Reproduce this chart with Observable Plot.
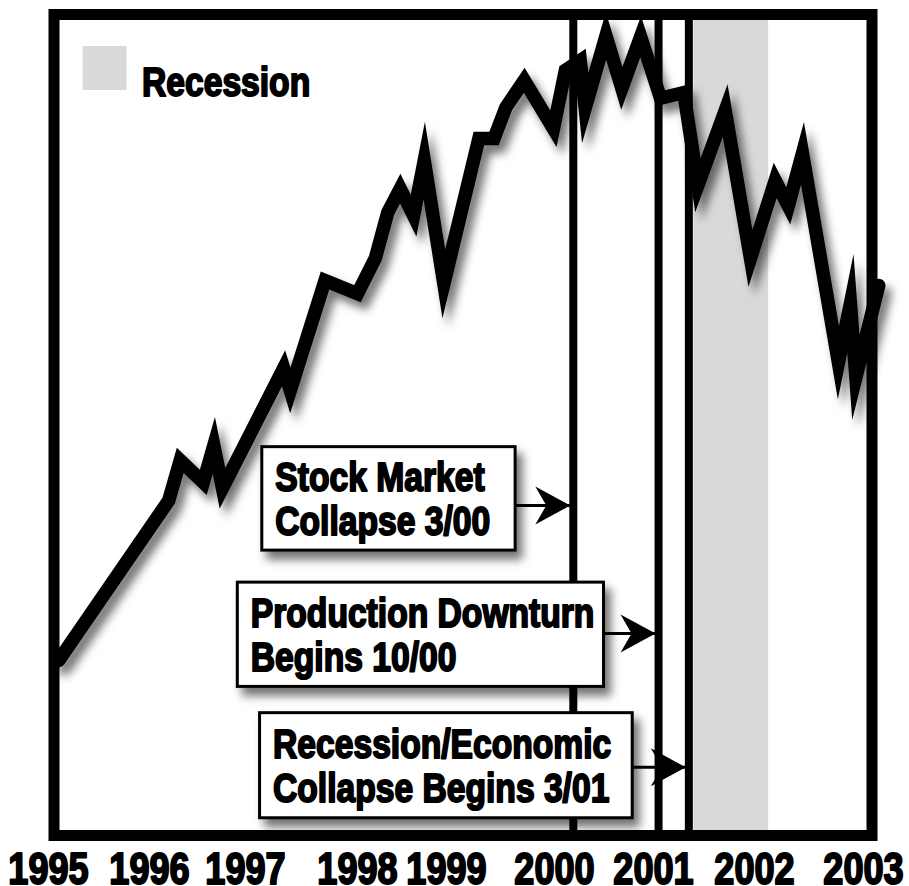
<!DOCTYPE html>
<html><head><meta charset="utf-8">
<script src="https://cdn.jsdelivr.net/npm/d3@7"></script>
<script src="https://cdn.jsdelivr.net/npm/@observablehq/plot@0.6"></script>
<style>
html,body{margin:0;padding:0;background:#fff;}
</style>
</head><body><div id="chart"></div>
<script>
// ---- data ----
const years = [1995, 1996, 1997, 1998, 1999, 2000, 2001, 2002, 2003];
const seriesDate = [1995.10, 1996.20, 1996.32, 1996.56, 1996.67, 1996.76, 1997.34, 1997.40, 1997.71, 1998.00,
  1998.20, 1998.34, 1998.48, 1998.63, 1998.75, 1998.97, 1999.30, 1999.44, 1999.55, 1999.72,
  1999.99, 2000.11, 2000.26, 2000.31, 2000.52, 2000.68, 2000.87, 2001.07, 2001.30, 2001.44,
  2001.71, 2001.96, 2002.19, 2002.31, 2002.44, 2002.77, 2002.88, 2002.93, 2003.14];
const seriesValue = [21.3, 40.8, 45.7, 43.0, 47.5, 42.3, 56.9, 54.2, 67.6, 66.0,
  70.3, 75.9, 78.8, 75.5, 82.2, 67.2, 84.9, 84.9, 88.7, 92.0,
  86.1, 93.2, 94.4, 88.6, 97.4, 91.0, 97.3, 89.8, 90.5, 79.2,
  88.3, 70.3, 79.8, 76.7, 83.1, 57.6, 64.8, 55.8, 67.0];
const eventDates = [2000.19, 2001.05, 2001.35];
const recessionStart = [2001.40];
const recessionEnd = [2002.13];
const noteLabels = ["Stock Market\nCollapse 3/00", "Production Downturn\nBegins 10/00", "Recession/Economic\nCollapse Begins 3/01"];
const noteLeft = [1997.15, 1996.92, 1997.13];
const noteRight = [1999.64, 2000.50, 2000.79];
const noteTop = [47.3, 30.8, 14.9];
const noteBottom = [34.7, 18.1, 2.1];
const noteArrowLevel = [40.2, 24.6, 8.3];
const legendLabel = ["Recession"];

// ---- tables built from the arrays ----
const series = seriesDate.map((date, i) => ({date, value: seriesValue[i]}));
const notes = noteLabels.map((label, i) => ({
  label, left: noteLeft[i], right: noteRight[i], top: noteTop[i], bottom: noteBottom[i],
  level: noteArrowLevel[i], event: eventDates[i]
}));
const recession = recessionStart.map((s, i) => ({start: s, end: recessionEnd[i]}));

const FONT = "'Liberation Sans', Arial, sans-serif";
const HEAVY = {fontWeight: "bold", fontFamily: FONT, fill: "black", stroke: "black", strokeWidth: 2};

// barbed arrow head pointing right, tip just left of the origin
const arrowHead = {
  draw(ctx) {
    ctx.moveTo(-3, 0);
    ctx.lineTo(-38, -19);
    ctx.lineTo(-27, 0);
    ctx.lineTo(-38, 19);
    ctx.closePath();
  }
};

const chart = Plot.plot({
  width: 909,
  height: 886,
  marginLeft: 53.5,
  marginRight: 37.5,
  marginTop: 14,
  marginBottom: 51,
  style: {background: "#fff", fontFamily: FONT},
  x: {type: "linear", domain: years, range: [48, 149, 245, 357, 446, 554, 653, 754, 863], axis: null},
  y: {domain: [0, 100], axis: null},
  marks: [
    Plot.rect(recession, {x1: "start", x2: "end", fill: "#d9d9d9"}),
    Plot.line(series, {x: "date", y: "value", stroke: "black", strokeWidth: 13.5,
      strokeLinejoin: "miter", strokeMiterlimit: 20}),
    Plot.ruleX(eventDates, {stroke: "black", strokeWidth: 8}),
    Plot.rect(notes, {x1: "left", x2: "right", y1: "bottom", y2: "top", fill: "white", stroke: "black", strokeWidth: 3}),
    Plot.text(notes, {x: "left", y: d => (d.top + d.bottom) / 2, text: "label", dx: 13, textAnchor: "start",
      lineHeight: 1.08, fontSize: 41, ...HEAVY}),
    Plot.link(notes, {x1: "right", x2: "event", y1: "level", y2: "level", stroke: "black", strokeWidth: 3}),
    Plot.dot(notes, {x: "event", y: "level", symbol: arrowHead, fill: "black", stroke: null}),
    Plot.dot(legendLabel, {frameAnchor: "top-left", dx: 50.5, dy: 53.5, symbol: "square", r: 24.8, fill: "#d9d9d9"}),
    Plot.text(legendLabel, {frameAnchor: "top-left", dx: 88, dy: 52, text: d => d, textAnchor: "start",
      fontSize: 41, ...HEAVY}),
    Plot.frame({stroke: "black", strokeWidth: 11}),
    Plot.text(years, {x: d => d, frameAnchor: "bottom", lineAnchor: "middle", dy: 34, text: d => String(d),
      fontSize: 44, ...HEAVY})
  ]
});

document.getElementById("chart").appendChild(chart);

// condense the heavy lettering like the original's condensed typeface
chart.querySelectorAll('g[aria-label="text"] text').forEach(t => {
  const spans = t.querySelectorAll("tspan");
  const targets = spans.length ? Array.from(spans) : [t];
  targets.forEach(el => {
    const L = el.getComputedTextLength();
    if (L > 0) {
      el.setAttribute("textLength", (L * 0.82).toFixed(1));
      el.setAttribute("lengthAdjust", "spacingAndGlyphs");
    }
  });
});

// drop shadows like the original artwork
const svg = d3.select(chart);
const defs = svg.insert("defs", ":first-child");
defs.append("filter").attr("id", "shadow")
  .attr("x", "-20%").attr("y", "-20%").attr("width", "140%").attr("height", "140%")
  .append("feDropShadow").attr("dx", 6).attr("dy", 8).attr("stdDeviation", 5)
  .attr("flood-color", "#000").attr("flood-opacity", 0.55);
svg.selectAll('g[aria-label="line"]').attr("filter", "url(#shadow)");
const rects = chart.querySelectorAll('g[aria-label="rect"]');
if (rects.length > 1) d3.select(rects[1]).attr("filter", "url(#shadow)");
</script>
</body></html>
